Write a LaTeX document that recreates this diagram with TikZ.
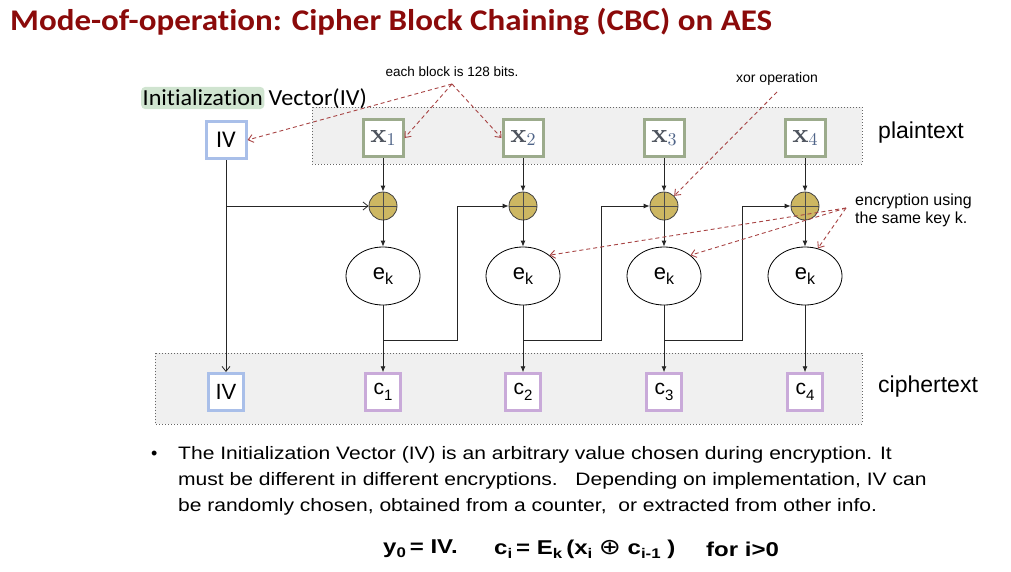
\documentclass[tikz,border=0pt]{standalone}
\usepackage{graphicx}
\usepackage{fontspec}
\setmainfont{Liberation Sans}
\newfontfamily\carlito[Ligatures=NoCommon]{Carlito}
\newfontfamily\djv{DejaVu Sans}
\newfontfamily\lmrb{lmroman10-bold.otf}
\newfontfamily\lmrr{lmroman10-regular.otf}
\usetikzlibrary{arrows.meta,shapes.geometric}
\definecolor{titlered}{HTML}{8B0A0A}
\definecolor{ivblue}{HTML}{A9BFE9}
\definecolor{xgreen}{HTML}{9CAB8C}
\definecolor{cpurple}{HTML}{C9AAD9}
\definecolor{gold}{HTML}{CDB762}
\definecolor{dred}{HTML}{A84444}
\definecolor{hlgreen}{HTML}{D0E4D0}
\definecolor{boxgray}{HTML}{F0F0F0}
\definecolor{xtext}{HTML}{4C525C}
\definecolor{xsub}{HTML}{4F6488}
\newcommand{\fsz}[1]{\fontsize{#1}{#1}\selectfont}
\newcommand{\xlab}[1]{\textcolor{xtext}{\lmrb\fsz{27}x}\raisebox{-0.55ex}{\textcolor{xsub}{\lmrr\fsz{18}#1}}}
\newcommand{\clab}[1]{\fsz{21}c\raisebox{-0.5ex}{\fsz{15}#1}}
\newcommand{\eklab}{\fsz{22}e\raisebox{-0.5ex}{\fsz{16}k}}
\newcommand{\fsub}[1]{\raisebox{-0.4ex}{\fsz{14}#1}}
\begin{document}
\begin{tikzpicture}[x=1pt,y=-1pt,
  blk/.style={draw, line width=3pt, minimum width=40, minimum height=37, inner sep=0, fill=white},
  ivb/.style={blk, draw=ivblue},
  xb/.style={blk, draw=xgreen},
  cb/.style={blk, draw=cpurple, line width=2.5pt, minimum width=35, minimum height=37},
  xorn/.style={circle, draw=black!75, line width=0.8pt, fill=gold, minimum size=28, inner sep=0,
    path picture={\draw[black!70, line width=0.8pt] (path picture bounding box.north) -- (path picture bounding box.south)
      (path picture bounding box.west) -- (path picture bounding box.east);}},
  ek/.style={ellipse, draw, line width=0.8pt, fill=white, minimum width=74, minimum height=58, inner sep=0},
  conn/.style={draw=black!85, line width=0.8pt},
  arr/.style={-{Latex[length=6pt,width=5pt]}},
  openarr/.style={-{Straight Barb[length=5pt,width=8pt]}},
  hint/.style={draw=dred, line width=0.9pt, dash pattern=on 4pt off 3pt, -{Straight Barb[length=5pt,width=8pt]}},
  graybox/.style={draw=black!60, dotted, line width=1pt, fill=boxgray},
  lbl/.style={inner sep=0, anchor=west}]
\useasboundingbox (0,0) rectangle (1011,571);

% title
\node[lbl, anchor=base west] (title) at (10,30) {\scalebox{1.1}[1]{\carlito\bfseries\fsz{30}\textcolor{titlered}{Mode-of-operation: Cipher Block Chaining (CBC) on AES}}};

% background boxes
\path[graybox] (312,107) rectangle (862,164);
\path[graybox] (155,353) rectangle (862,424);

% IV label
\node[fill=hlgreen, rounded corners=4pt, anchor=west, inner xsep=1.5pt, inner ysep=3pt] (ivlab) at (141,98) {\scalebox{1.05}[1]{\carlito\fsz{23}Initialization}};
\node[inner sep=0, anchor=base west] (ivlab2) at ([xshift=4pt]ivlab.base east) {\scalebox{1.05}[1]{\carlito\fsz{23}Vector(IV)}};

% top row
\node[ivb] (iv) at (226,140) {\carlito\fsz{24}IV};
\node[xb] (x1) at (383,138) {\xlab{1}};
\node[xb] (x2) at (523,138) {\xlab{2}};
\node[xb] (x3) at (664,138) {\xlab{3}};
\node[xb] (x4) at (805,138) {\xlab{4}};
\node[lbl] (pt) at (878,133) {\fsz{23}plaintext};

% xors
\node[xorn] (xor1) at (383,206) {};
\node[xorn] (xor2) at (523,206) {};
\node[xorn] (xor3) at (664,206) {};
\node[xorn] (xor4) at (805,206) {};

% encryptions
\node[ek] (ek1) at (383,276) {\eklab};
\node[ek] (ek2) at (523,276) {\eklab};
\node[ek] (ek3) at (664,276) {\eklab};
\node[ek] (ek4) at (805,276) {\eklab};

% cipher row
\node[cb, draw=ivblue, line width=3pt] (ivc) at (226,392) {\fsz{22}IV};
\node[cb] (c1) at (383,392) {\clab{1}};
\node[cb] (c2) at (523,392) {\clab{2}};
\node[cb] (c3) at (664,392) {\clab{3}};
\node[cb] (c4) at (805,392) {\clab{4}};
\node[lbl] (ct) at (878,387) {\fsz{23}ciphertext};

% connectors
\draw[conn, openarr] (iv) -- (ivc);
\draw[conn, openarr] (iv |- xor1) -- (xor1);
\foreach \i in {1,2,3,4}{
  \draw[conn, arr] (x\i) -- (xor\i);
  \draw[conn, arr] (xor\i) -- (ek\i);
  \draw[conn, arr] (ek\i) -- (c\i);
}
\coordinate (k1) at (457,340);
\coordinate (k2) at (601,340);
\coordinate (k3) at (742,340);
\draw[conn, arr] (ek1 |- k1) -- (k1) -- (k1 |- xor2) -- (xor2);
\draw[conn, arr] (ek2 |- k2) -- (k2) -- (k2 |- xor3) -- (xor3);
\draw[conn, arr] (ek3 |- k3) -- (k3) -- (k3 |- xor4) -- (xor4);

% annotations
\node[inner sep=0] (blk) at (452,72) {\fsz{13.5}each block is 128 bits.};
\coordinate (h1) at (452,84);
\draw[hint] (h1) -- (iv.east);
\draw[hint] (h1) -- (x1.east);
\draw[hint] (h1) -- (x2.west);

\node[inner sep=0] (xorop) at (777,79) {\fsz{14}xor operation};
\coordinate (h2) at (777,92);
\draw[hint] (h2) -- (xor3.north east);

\node[lbl, align=left] (encl) at (855,210) {\fsz{16}encryption using\\[2pt]\fsz{16}the same key k.};
\coordinate (h3) at (846,208);
\draw[hint] (h3) -- (ek2.north east);
\draw[hint] (h3) -- (ek3.north east);
\draw[hint] (h3) -- (ek4.65);

% bullet text
\node[lbl] (bul) at (151,455) {\fsz{18}•};
\node[lbl] (t1) at (178,455) {\scalebox{1.17}[1]{\fsz{18}The Initialization Vector (IV) is an arbitrary value chosen during encryption. It}};
\node[lbl] (t2) at (178,481) {\scalebox{1.17}[1]{\fsz{18}must be different in different encryptions.\ \ \ Depending on implementation, IV can}};
\node[lbl] (t3) at (178,507) {\scalebox{1.17}[1]{\fsz{18}be randomly chosen, obtained from a counter,\ \ or extracted from other info.}};

% formula
\node[lbl] (f1) at (383,549) {\scalebox{1.2}[1]{\fsz{20}\bfseries y\fsub{0}\,= IV.}};
\node[lbl] (f2) at (494,549) {\scalebox{1.2}[1]{\fsz{20}\bfseries c\fsub{i}\,= E\fsub{k}\,(x\fsub{i}\ {\djv\mdseries\fsz{22}⊕}\ c\fsub{i-1}\ )}};
\node[lbl] (f3) at (706,549) {\scalebox{1.2}[1]{\fsz{20}\bfseries for i>0}};
\end{tikzpicture}
\end{document}
